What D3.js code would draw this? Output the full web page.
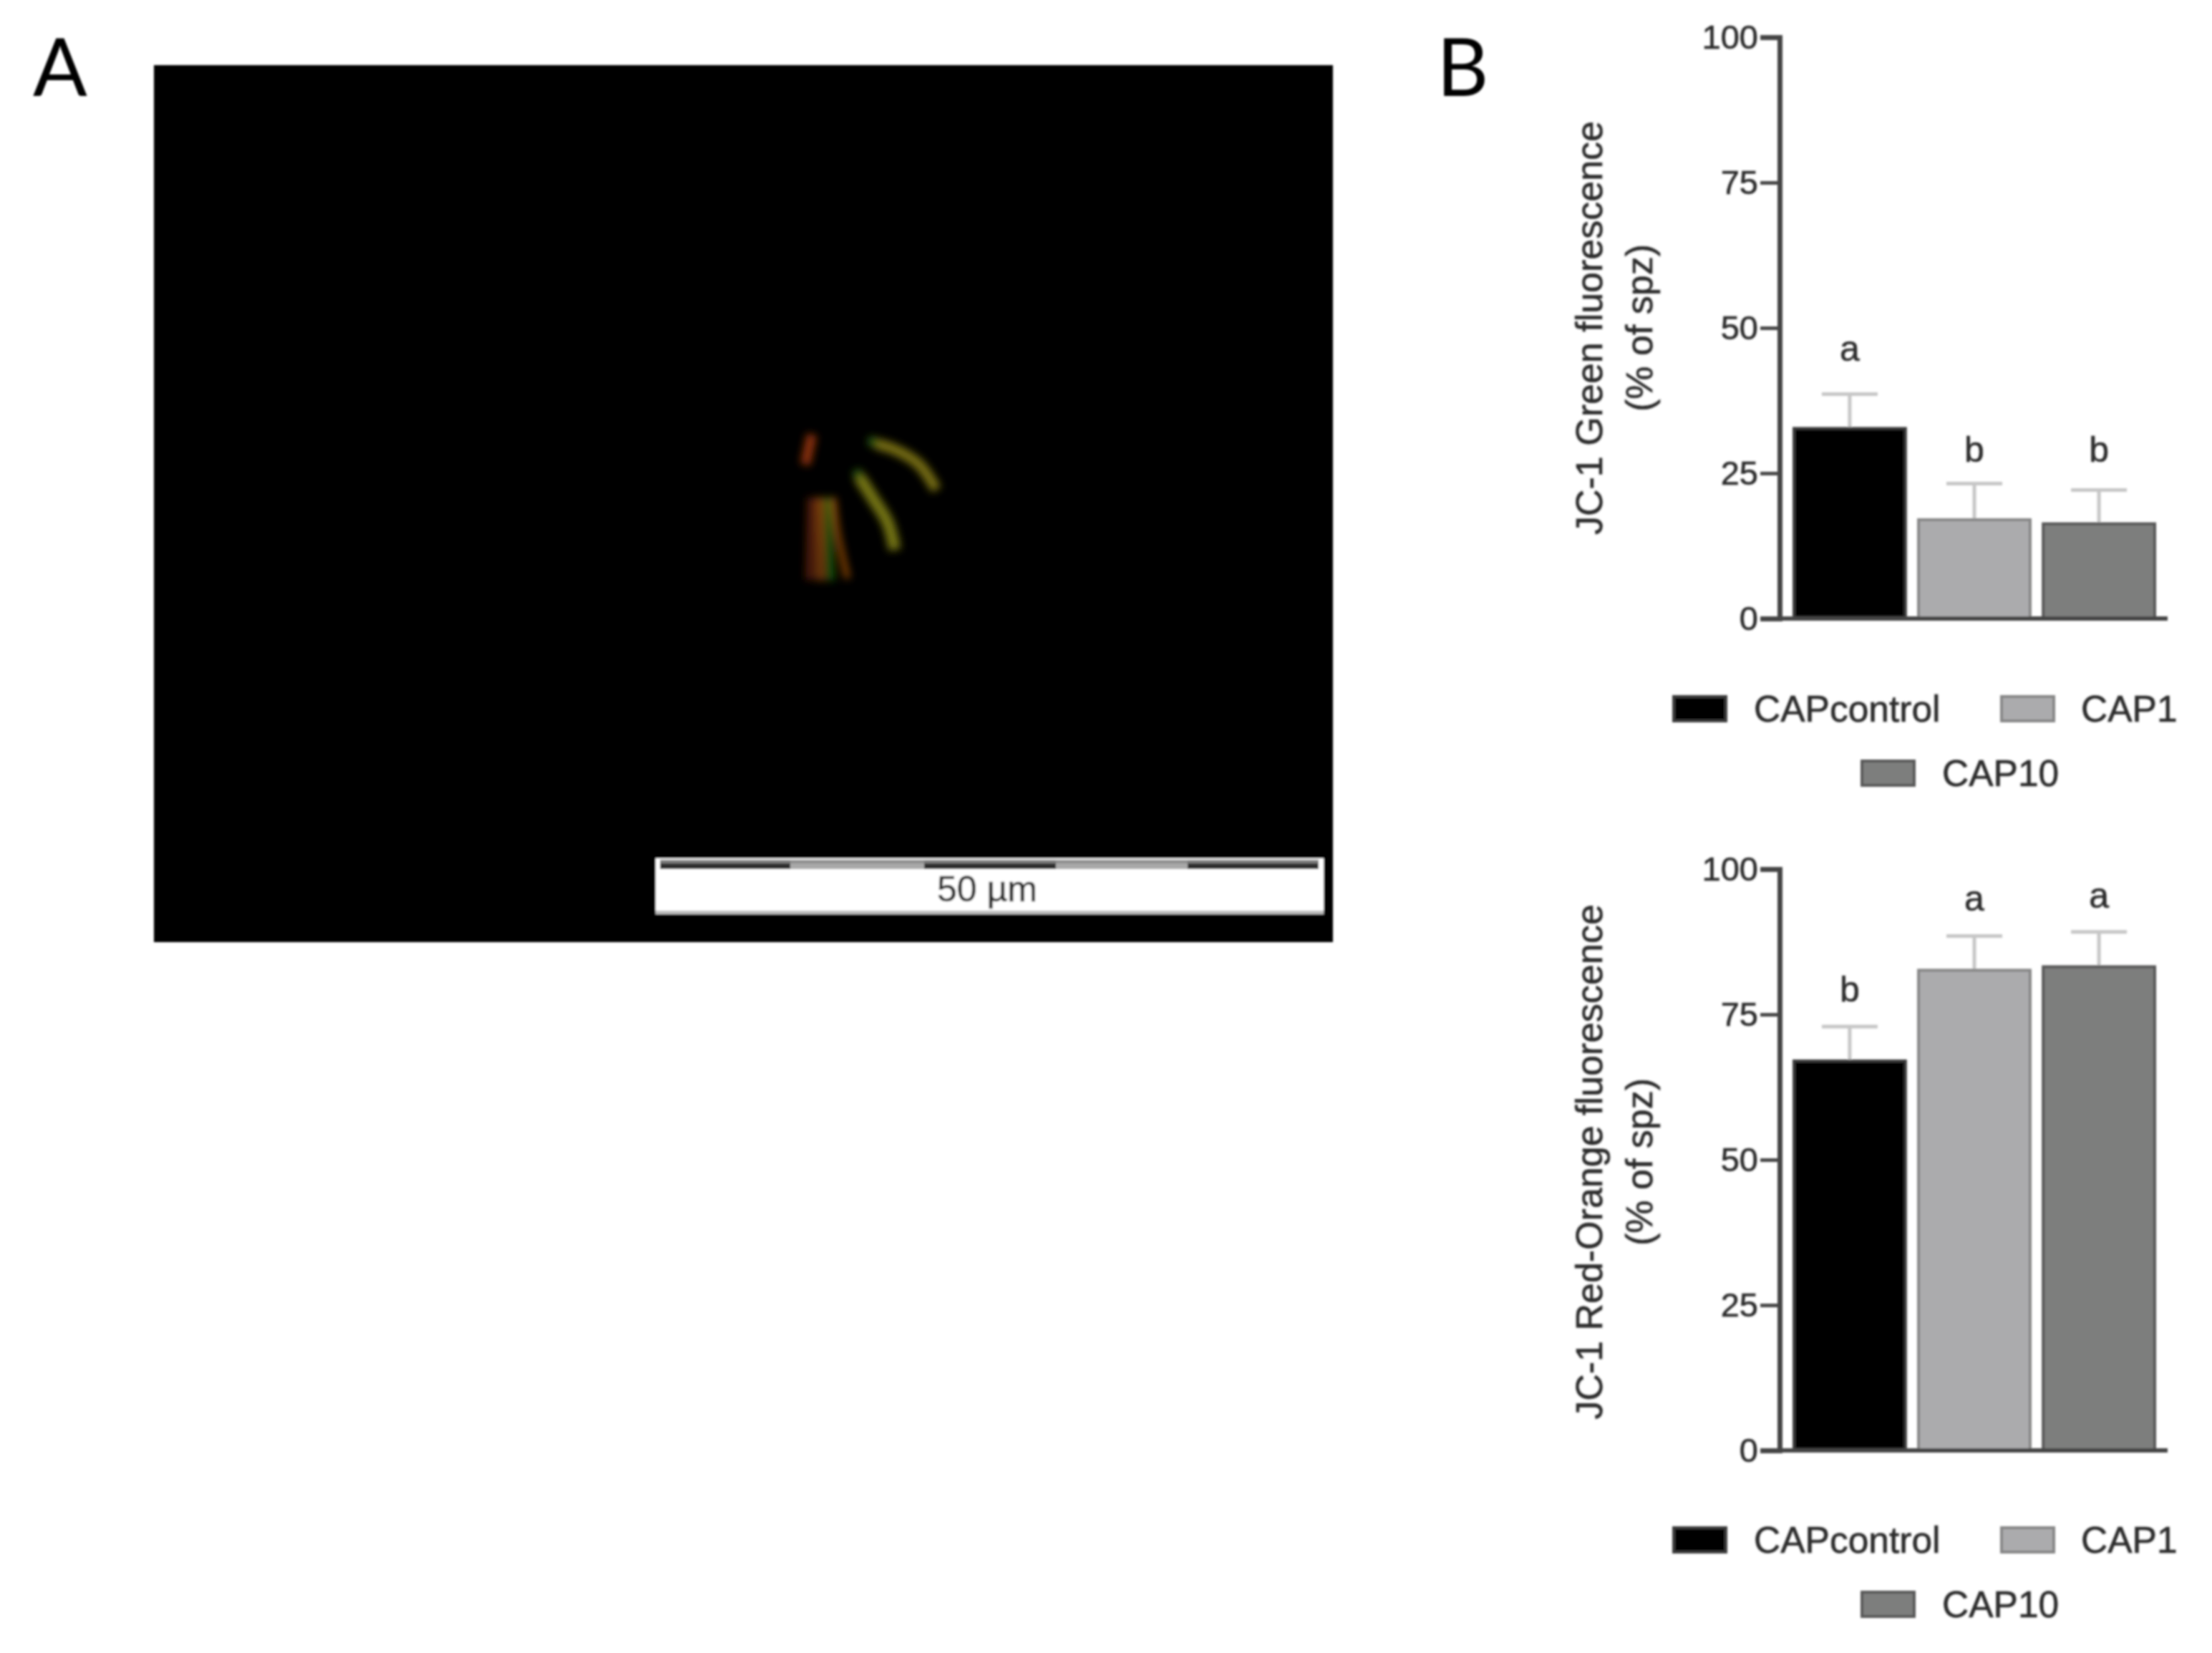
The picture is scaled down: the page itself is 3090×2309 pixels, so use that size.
<!DOCTYPE html>
<html>
<head>
<meta charset="utf-8">
<script src="https://cdn.jsdelivr.net/npm/d3@7"></script>
<style>
    html, body { margin: 0; background: #fff; }
    svg { display: block; }
    text { font-family: "Liberation Sans", Arial, sans-serif; fill: #2a2a2a; stroke: #2a2a2a; stroke-width: 0.6; }
</style>
</head>
<body>
<div id="chart"></div>
<script>
// data
const groups = ["CAPcontrol", "CAP1", "CAP10"];
const tickValues = [0, 25, 50, 75, 100];

const greenValues = [32.7, 17.0, 16.3];
const greenUpper = [38.6, 23.2, 22.1];
const greenLetters = ["a", "b", "b"];
const greenLetterAt = [44.3, 27.0, 27.0];

const redValues = [67.0, 82.6, 83.2];
const redUpper = [72.9, 88.5, 89.2];
const redLetters = ["b", "a", "a"];
const redLetterAt = [77.2, 92.8, 93.3];

const barFill = ["#000000", "#ababad", "#7d7e7d"];
const barStroke = ["#3a3a3a", "#858585", "#565656"];

// filaments of the micrograph, in pixels of the 320x280 crop around the cell
const strands = [
    { color: "#2f6a12", width: 13, pts: [[163, 45], [178, 50]] },
    { color: "#8f8412", width: 15, pts: [[174, 50], [200, 58], [233, 78], [258, 114]] },
    { color: "#2f6a12", width: 13, pts: [[145, 87], [152, 98]] },
    { color: "#8a8a12", width: 17, pts: [[150, 96], [170, 127], [190, 160], [200, 198]] },
    { color: "#5e2408", width: 13, pts: [[84, 125], [82, 240]] },
    { color: "#a85408", width: 9, pts: [[96, 125], [97, 241]] },
    { color: "#1c7410", width: 9, pts: [[106, 125], [111, 241]] },
    { color: "#a85408", width: 8, pts: [[114, 125], [120, 175], [134, 238]] },
    { color: "#a83a08", width: 14, pts: [[84, 37], [75, 79]] }
];

const svg = d3.select("#chart").append("svg")
    .attr("width", 3090)
    .attr("height", 2309);

const defs = svg.append("defs");
defs.append("filter").attr("id", "soft")
    .append("feGaussianBlur").attr("stdDeviation", 1.6);
defs.append("filter").attr("id", "glow")
    .attr("x", "-30%").attr("y", "-30%").attr("width", "160%").attr("height", "160%")
    .append("feGaussianBlur").attr("stdDeviation", 6);

// panel A
function drawMicrograph() {
    const g = svg.append("g").attr("filter", "url(#soft)");

    g.append("rect")
        .attr("x", 215).attr("y", 91)
        .attr("width", 1647).attr("height", 1225)
        .attr("fill", "#050302");

    const px = d3.scaleLinear().domain([0, 320]).range([1050, 1370]);
    const py = d3.scaleLinear().domain([0, 280]).range([570, 850]);
    const line = d3.line().x(d => px(d[0])).y(d => py(d[1])).curve(d3.curveCatmullRom);

    svg.append("g").attr("filter", "url(#glow)")
        .attr("opacity", 0.85)
        .selectAll("path")
        .data(strands)
        .enter().append("path")
        .attr("d", d => line(d.pts))
        .attr("fill", "none")
        .attr("stroke", d => d.color)
        .attr("stroke-width", d => d.width);

    // scale bar
    g.append("rect")
        .attr("x", 916).attr("y", 1199)
        .attr("width", 933).attr("height", 78)
        .attr("fill", "#fff");
    g.append("rect")
        .attr("x", 916).attr("y", 1272)
        .attr("width", 933).attr("height", 5)
        .attr("fill", "#bdbdbd");

    const segs = [922, 1104, 1291, 1475, 1659, 1842];
    d3.pairs(segs).forEach(function (p, i) {
        g.append("rect")
            .attr("x", p[0]).attr("y", 1201)
            .attr("width", p[1] - p[0]).attr("height", 5)
            .attr("fill", i % 2 === 0 ? "#7c7c7c" : "#8e8e8e");
        g.append("rect")
            .attr("x", p[0]).attr("y", 1206)
            .attr("width", p[1] - p[0]).attr("height", 8)
            .attr("fill", i % 2 === 0 ? "#2e2e2e" : "#a8a8a8");
    });

    g.append("text")
        .attr("x", 1379).attr("y", 1259)
        .attr("text-anchor", "middle")
        .attr("font-size", 50)
        .text("50 µm");
}

function createBarChart(values, upper, letters, letterAt, yTop, yBottom, labelLine1, labelCentre, legendTop) {
    const g = svg.append("g")
        .attr("filter", "url(#soft)");

    const x = d3.scaleBand()
        .domain(groups)
        .range([2506, 3010])
        .paddingInner(0.105)
        .paddingOuter(0);

    const y = d3.scaleLinear()
        .domain([0, 100])
        .range([yBottom, yTop]);

    // error bars go under the bars
    const errs = g.selectAll(".err")
        .data(groups)
        .enter().append("g")
        .attr("stroke", "#c6c6c6")
        .attr("stroke-width", 5);
    errs.append("line")
        .attr("x1", d => x(d) + x.bandwidth() / 2)
        .attr("x2", d => x(d) + x.bandwidth() / 2)
        .attr("y1", (d, i) => y(values[i]))
        .attr("y2", (d, i) => y(upper[i]));
    errs.append("line")
        .attr("x1", d => x(d) + x.bandwidth() / 2 - 39)
        .attr("x2", d => x(d) + x.bandwidth() / 2 + 39)
        .attr("y1", (d, i) => y(upper[i]))
        .attr("y2", (d, i) => y(upper[i]));

    g.selectAll(".bar")
        .data(groups)
        .enter().append("rect")
        .attr("class", "bar")
        .attr("x", d => x(d))
        .attr("y", (d, i) => y(values[i]))
        .attr("width", x.bandwidth())
        .attr("height", (d, i) => yBottom - y(values[i]))
        .attr("fill", (d, i) => barFill[i])
        .attr("stroke", (d, i) => barStroke[i])
        .attr("stroke-width", 4);

    g.selectAll(".letter")
        .data(groups)
        .enter().append("text")
        .attr("class", "letter")
        .attr("x", d => x(d) + x.bandwidth() / 2)
        .attr("y", (d, i) => y(letterAt[i]))
        .attr("text-anchor", "middle")
        .attr("font-size", 50)
        .text((d, i) => letters[i]);

    // axes
    const yAxis = d3.axisLeft(y)
        .tickValues(tickValues)
        .tickSize(27)
        .tickPadding(3);
    const ga = g.append("g")
        .attr("transform", "translate(2486,0)")
        .call(yAxis);
    ga.select(".domain").attr("stroke", "#444").attr("stroke-width", 7);
    ga.selectAll(".tick line").attr("stroke", "#444").attr("stroke-width", 5);
    ga.selectAll(".tick text")
        .attr("font-size", 47)
        .attr("fill", "#2a2a2a")
        .style("font-family", '"Liberation Sans", Arial, sans-serif');

    g.append("line")
        .attr("x1", 2459).attr("x2", 3028)
        .attr("y1", yBottom).attr("y2", yBottom)
        .attr("stroke", "#444").attr("stroke-width", 6);

    // axis title
    g.append("text")
        .attr("transform", `translate(2238,${labelCentre}) rotate(-90)`)
        .attr("text-anchor", "middle")
        .attr("font-size", 52)
        .text(labelLine1);
    g.append("text")
        .attr("transform", `translate(2308,${labelCentre}) rotate(-90)`)
        .attr("text-anchor", "middle")
        .attr("font-size", 52)
        .text("(% of spz)");

    // legend
    const legendPos = [
        { sx: 2338, tx: 2450, row: 0 },
        { sx: 2796, tx: 2907, row: 0 },
        { sx: 2601, tx: 2713, row: 1 }
    ];
    const items = g.selectAll(".legend")
        .data(groups)
        .enter().append("g")
        .attr("transform", (d, i) => `translate(0,${legendTop + legendPos[i].row * 90})`);
    items.append("rect")
        .attr("x", (d, i) => legendPos[i].sx)
        .attr("y", -17)
        .attr("width", 73).attr("height", 34)
        .attr("fill", (d, i) => barFill[i])
        .attr("stroke", (d, i) => barStroke[i])
        .attr("stroke-width", 4);
    items.append("text")
        .attr("x", (d, i) => legendPos[i].tx)
        .attr("y", 18)
        .attr("font-size", 51.5)
        .text(d => d);
}

drawMicrograph();
createBarChart(greenValues, greenUpper, greenLetters, greenLetterAt, 52, 864, "JC-1 Green fluorescence", 458, 990);
createBarChart(redValues, redUpper, redLetters, redLetterAt, 1214, 2026, "JC-1 Red-Orange fluorescence", 1623, 2151);

// panel letters
const panels = svg.append("g").attr("filter", "url(#soft)")
    .attr("font-size", 112);
panels.append("text").attr("x", 46).attr("y", 134).style("font-family", "Lato").style("fill", "#000").style("stroke", "none").text("A");
panels.append("text").attr("x", 2007).attr("y", 134).style("font-family", "Lato").style("fill", "#000").style("stroke", "none").text("B");
</script>
</body>
</html>
